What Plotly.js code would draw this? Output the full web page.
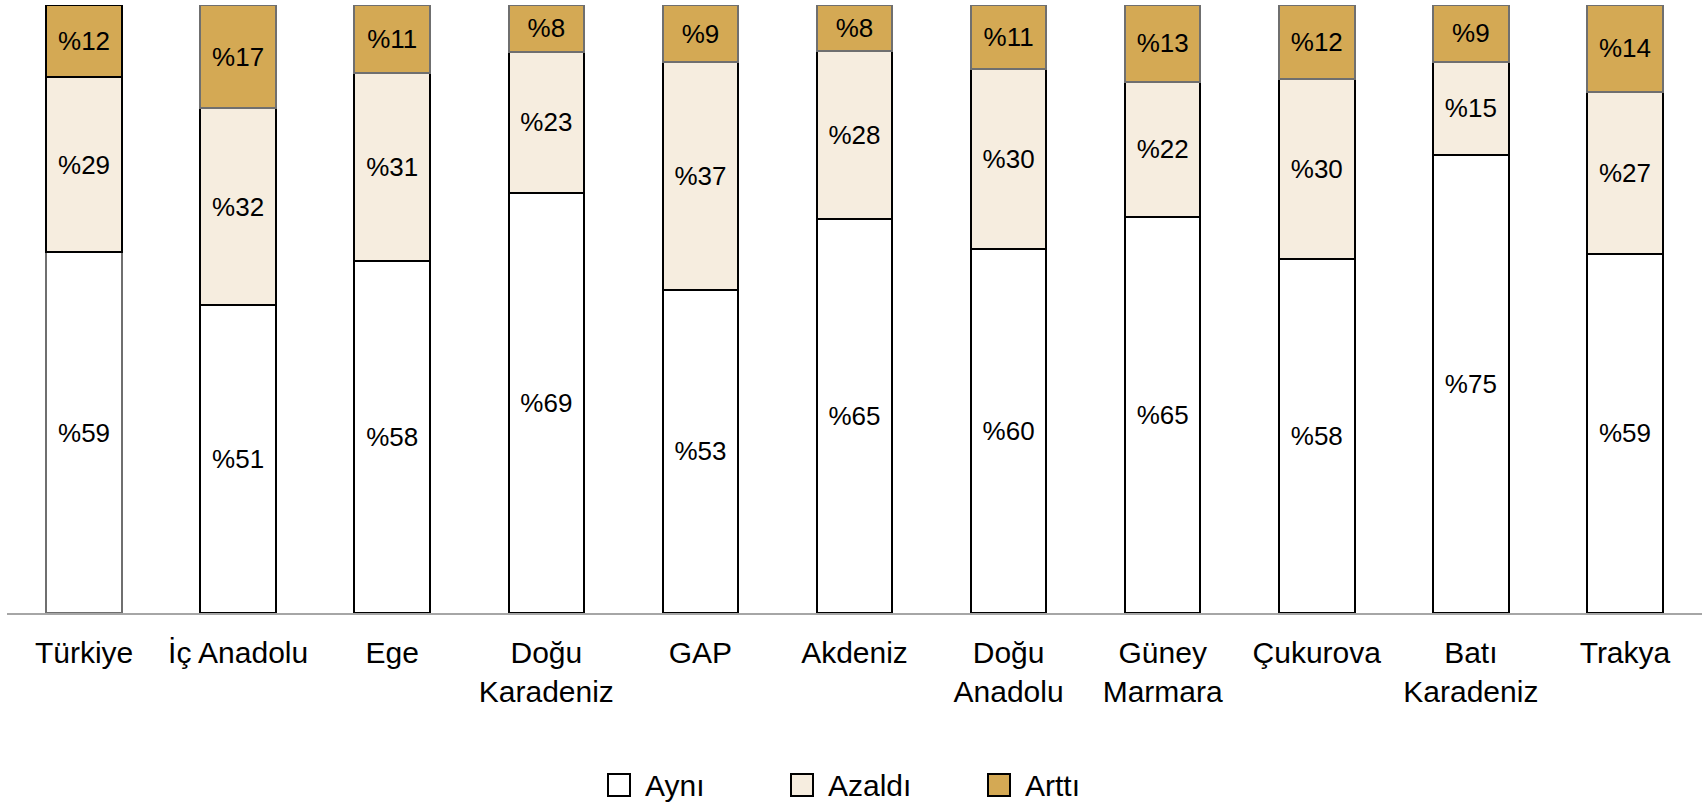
<!DOCTYPE html>
<html>
<head>
<meta charset="utf-8">
<script src="https://cdn.plot.ly/plotly-3.0.1.min.js"></script>
<style>html,body{margin:0;padding:0;background:#fff;}#chart{width:1702px;height:805px;}</style>
</head>
<body>
<div id="chart"></div>
<script>
const categories = ["Türkiye", "İç Anadolu", "Ege", "Doğu<br>Karadeniz", "GAP", "Akdeniz", "Doğu<br>Anadolu", "Güney<br>Marmara", "Çukurova", "Batı<br>Karadeniz", "Trakya"];
const seriesNames = ["Aynı", "Azaldı", "Arttı"];
const ayni   = [59.3, 50.7, 57.9, 69.1, 53.2, 64.8, 59.8, 65.2, 58.2, 75.4, 59.1];
const azaldi = [28.9, 32.3, 30.9, 23.2, 37.4, 27.6, 29.6, 22.2, 29.6, 15.3, 26.6];
const artti  = [11.8, 17.0, 11.2, 7.7, 9.4, 7.6, 10.6, 12.6, 12.2, 9.3, 14.3];

const FONT = "Liberation Sans, Arial, sans-serif";
const lbl = arr => arr.map(v => "%" + Math.round(v));
const GRAY = "#6f6f6f";
const FILLS = ["#ffffff", "#f6eddf", "#d4a954"];

function seg(name, vals, fill, lineColors) {
  return {
    type: "bar", name: name, x: categories, y: vals,
    text: lbl(vals), textposition: "inside", insidetextanchor: "middle",
    textangle: 0, constraintext: "none",
    textfont: {family: FONT, size: 26, color: "#000"},
    marker: {color: fill, line: {color: lineColors, width: 2}},
    hoverinfo: "none", showlegend: false
  };
}

const data = [
  seg(seriesNames[0], ayni, FILLS[0], categories.map((c, i) => i === 0 ? GRAY : "#000")),
  seg(seriesNames[1], azaldi, FILLS[1], categories.map(() => "#000")),
  seg(seriesNames[2], artti, FILLS[2], categories.map((c, i) => i === 0 ? "#000" : GRAY))
];

// custom legend (paper coordinates; plot area spans x 7..1702, y 5..613 px)
const W = 1695, H = 608;
const px = x => (x - 7) / W;
const py = y => (613 - y) / H;
const legendStarts = [608, 791, 988];
const shapes = [], annotations = [];
seriesNames.forEach((n, i) => {
  const x0 = legendStarts[i];
  shapes.push({type: "rect", xref: "paper", yref: "paper",
    x0: px(x0), x1: px(x0 + 22), y0: py(796), y1: py(774),
    fillcolor: FILLS[i], line: {color: "#000", width: 2}});
  annotations.push({xref: "paper", yref: "paper", x: px(x0 + 35), y: py(785),
    xanchor: "left", yanchor: "middle", text: n, showarrow: false,
    font: {family: FONT, size: 30, color: "#000"}});
});

const layout = {
  width: 1702, height: 805,
  margin: {l: 7, r: 0, t: 5, b: 192},
  barmode: "stack", bargap: 0.51,
  paper_bgcolor: "#fff", plot_bgcolor: "#fff",
  font: {family: FONT, color: "#000"},
  xaxis: {
    showline: true, linecolor: "#a6a6a6", linewidth: 2,
    ticks: "", showgrid: false, zeroline: false, automargin: false,
    ticklabelstandoff: 12,
    tickfont: {family: FONT, size: 30, color: "#000"},
    fixedrange: true
  },
  yaxis: {range: [0, 100], visible: false, showgrid: false, zeroline: false, fixedrange: true, automargin: false},
  showlegend: false,
  shapes: shapes,
  annotations: annotations
};

Plotly.newPlot("chart", data, layout, {displayModeBar: false, staticPlot: true});
</script>
</body>
</html>
